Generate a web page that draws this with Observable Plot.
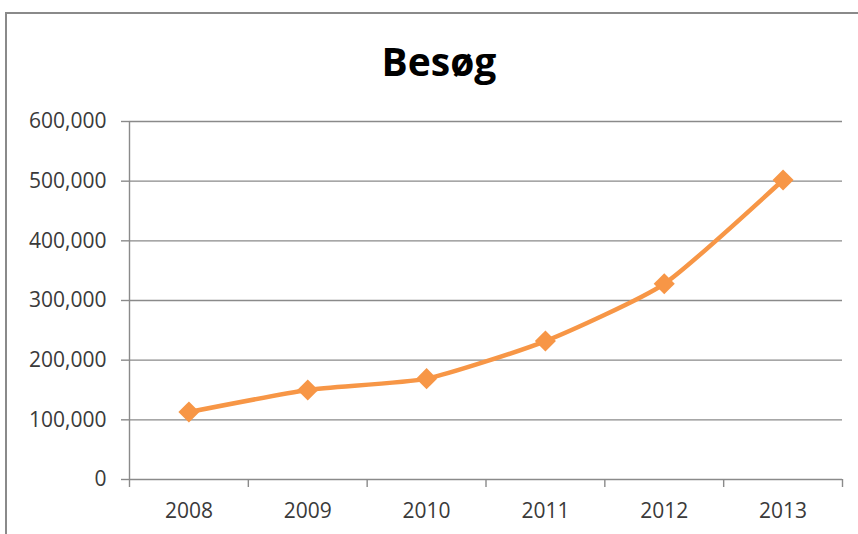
<!DOCTYPE html>
<html>
<head>
<meta charset="utf-8">
<script src="https://cdn.jsdelivr.net/npm/d3@7"></script>
<script src="https://cdn.jsdelivr.net/npm/@observablehq/plot@0.6"></script>
<style>
  html, body { margin: 0; padding: 0; background: #fff; width: 858px; height: 534px; overflow: hidden; }
  #frame { position: absolute; left: 5px; top: 12px; width: 900px; height: 600px;
           border-left: 2px solid #8a8a8a; border-top: 2px solid #8a8a8a; }
  #title { position: absolute; left: 10px; width: 858px; top: 41px; text-align: center;
           font-family: "Open Sans", sans-serif; font-weight: 700; font-size: 39px; line-height: 40px; color: #000; }
  #chart { position: absolute; left: 0; top: 0; }
</style>
</head>
<body>
<div id="frame"></div>
<div id="title">Besøg</div>
<div id="chart"></div>
<script>
const years = ["2008", "2009", "2010", "2011", "2012", "2013"];
const visits = [113000, 150000, 169000, 232000, 328000, 502000];
const yTicks = [0, 100000, 200000, 300000, 400000, 500000, 600000];

const pos = (d, i) => i + 0.5;

const chart = Plot.plot({
  width: 858,
  height: 534,
  marginLeft: 129,
  marginRight: 16,
  marginTop: 121,
  marginBottom: 55,
  x: { type: "linear", domain: [0, years.length] },
  y: { domain: [0, 600000] },
  style: { fontFamily: "'Open Sans', sans-serif", fontSize: "21px", color: "#3a3a3a", background: "transparent" },
  marks: [
    Plot.ruleY(yTicks, { stroke: "#8a8a8a", strokeWidth: 1.4 }),
    Plot.axisY({ ticks: yTicks, tickSize: 8, tickPadding: 15, tickFormat: d3.format(","), stroke: "#8a8a8a", strokeWidth: 1.4, fill: "#3a3a3a", label: null }),
    Plot.ruleX([0], { stroke: "#8a8a8a", strokeWidth: 1.4 }),
    Plot.axisX({ ticks: d3.range(years.length + 1), tickSize: 8, tickFormat: () => "", stroke: "#8a8a8a", strokeWidth: 1.4, label: null }),
    Plot.axisX({ ticks: years.map(pos), tickSize: 0, tickPadding: 24, tickFormat: d => years[Math.floor(d)], fill: "#3a3a3a", label: null }),
    Plot.line(visits, { x: pos, y: d => d, stroke: "#F79646", strokeWidth: 4.5, curve: "cardinal", tension: 0.45 }),
    Plot.dot(visits, { x: pos, y: d => d, symbol: "diamond2", r: 9.5, fill: "#F79646", stroke: "none" })
  ]
});
document.getElementById("chart").appendChild(chart);
</script>
</body>
</html>
